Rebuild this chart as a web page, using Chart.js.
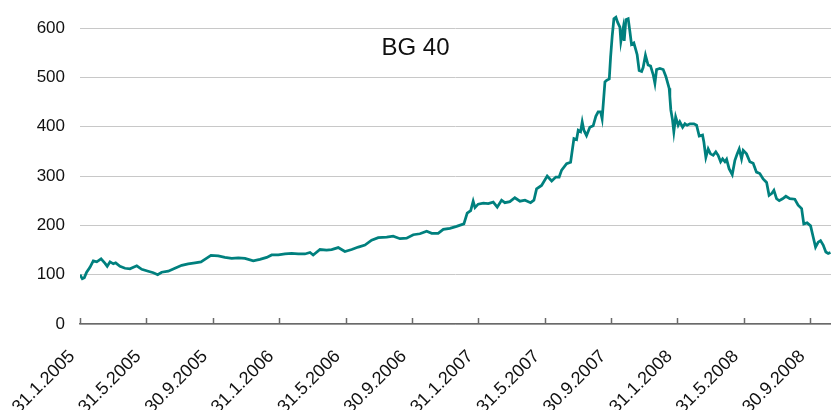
<!DOCTYPE html>
<html>
<head>
<meta charset="utf-8">
<title>BG 40</title>
<script src="https://cdn.jsdelivr.net/npm/chart.js@4/dist/chart.umd.min.js"></script>
<style>
    html, body { margin: 0; padding: 0; background: #ffffff; }
    #wrap { width: 831px; height: 410px; }
</style>
</head>
<body>
<div id="wrap"><canvas id="bgChart" width="831" height="410"></canvas></div>
<script>
// Months elapsed since 31.1.2005 for each reading
const months = [
    0, 0.14, 0.26, 0.40, 0.60, 0.80, 1.01, 1.27, 1.51, 1.64, 1.81, 2.01, 2.15, 2.41, 2.71, 3.01,
    3.42, 3.72, 4.11, 4.42, 4.68, 4.92, 5.32, 5.72, 6.13, 6.52, 6.93, 7.29, 7.57, 7.89,
    8.33, 8.73, 9.14, 9.54, 9.94, 10.44, 10.84, 11.25, 11.55, 11.95, 12.35, 12.75, 13.15, 13.55,
    13.86, 14.05, 14.46, 14.86, 15.16, 15.56, 15.96,
    16.37, 16.77, 17.17, 17.57, 17.97, 18.48, 18.87, 19.28, 19.68, 20.08, 20.48, 20.89, 21.19,
    21.58, 21.89, 22.29, 22.69, 23.13, 23.33, 23.54, 23.69, 23.80, 23.99,
    24.30, 24.60, 24.90, 25.14, 25.40, 25.60, 25.90, 26.20, 26.51, 26.81, 27.15, 27.35, 27.51,
    27.81, 28.15, 28.42, 28.67, 28.87, 29.02, 29.32, 29.56,
    29.76, 29.92, 30.02, 30.16, 30.26, 30.36, 30.52, 30.72, 30.92, 31.08, 31.22, 31.37, 31.46,
    31.63, 31.73, 31.89, 31.97, 32.07, 32.17, 32.29, 32.39, 32.53, 32.59, 32.73, 32.79, 32.89,
    33.03, 33.13, 33.23, 33.37, 33.49, 33.57, 33.69, 33.84, 33.93, 34.07,
    34.23, 34.38, 34.54, 34.64, 34.74, 34.94, 35.14, 35.30, 35.50, 35.54, 35.60, 35.70, 35.78,
    35.89, 36.04, 36.14, 36.31, 36.45, 36.58, 36.75, 36.99, 37.15, 37.31,
    37.51, 37.59, 37.71, 37.85, 37.99, 38.15, 38.31, 38.45, 38.60, 38.72, 38.86, 38.96, 39.11,
    39.30, 39.46, 39.60, 39.72, 39.86, 39.96, 40.16, 40.36, 40.56, 40.76, 40.96, 41.16, 41.37,
    41.52, 41.69, 41.81, 41.97, 42.13, 42.33, 42.53, 42.77, 43.07, 43.27, 43.48, 43.61, 43.81,
    44.02, 44.18, 44.32, 44.48, 44.62, 44.78, 44.94, 45.08, 45.22
];

// Index level
const values = [
    100, 92, 94, 105, 115, 128, 126, 132, 123, 117, 126, 122, 124, 117, 113, 112,
    118, 111, 107, 104, 100, 105, 107, 113, 119, 122, 124, 126, 132, 139,
    138, 135, 133, 134, 133, 128, 131, 135, 140, 140, 142, 143, 142, 142,
    145, 140, 151, 150, 151, 155, 147,
    151, 156, 160, 170, 175, 176, 178, 173, 174, 181, 183, 188, 184,
    184, 192, 194, 198, 203, 225, 230, 249, 236, 243,
    245, 244, 247, 237, 251, 246, 248, 256, 249, 251, 246, 251, 274,
    281, 300, 290, 298, 298, 312, 325, 328,
    376, 374, 393, 390, 410, 393, 382, 399, 402, 421, 430, 430, 416,
    491, 494, 497, 541, 585, 619, 622, 612, 602, 573, 600, 574, 617,
    619, 594, 567, 570, 556, 546, 514, 512, 520, 545,
    525, 523, 505, 488, 516, 518, 516, 502, 478, 461, 434, 414, 390,
    420, 403, 410, 399, 406, 403, 406, 406, 403, 381,
    383, 369, 338, 355, 345, 342, 349, 342, 329, 335, 329, 334, 315,
    303, 332, 345, 355, 335, 352, 345, 329, 326, 308, 305, 294, 287,
    261, 265, 271, 254, 250, 254, 259, 254, 253, 241, 234, 203, 205,
    199, 176, 156, 166, 169, 160, 146, 143, 145
];

const tickMonths = [0, 4, 8, 12, 16, 20, 24, 28, 32, 36, 40, 44];
const tickLabels = [
    '31.1.2005', '31.5.2005', '30.9.2005', '31.1.2006', '31.5.2006', '30.9.2006',
    '31.1.2007', '31.5.2007', '30.9.2007', '31.1.2008', '31.5.2008', '30.9.2008'
];

const FONT = "'Liberation Sans', Arial, sans-serif";
const AXIS_COLOR = '#6a6a6a';

// Inside tick marks on the date axis + the chart caption
const overlay = {
    id: 'overlay',
    afterDraw(chart) {
        const ctx = chart.ctx;
        const x = chart.scales.x;
        const bottom = chart.chartArea.bottom;

        ctx.save();
        ctx.strokeStyle = AXIS_COLOR;
        ctx.lineWidth = 1.5;
        x.ticks.forEach(t => {
            const px = Math.round(x.getPixelForValue(t.value)) + 0.5;
            ctx.beginPath();
            ctx.moveTo(px, bottom - 6);
            ctx.lineTo(px, bottom);
            ctx.stroke();
        });

        ctx.fillStyle = '#111111';
        ctx.font = '24px ' + FONT;
        ctx.textAlign = 'center';
        ctx.textBaseline = 'middle';
        ctx.fillText('BG 40', chart.width / 2, 48);
        ctx.restore();
    }
};

new Chart(document.getElementById('bgChart'), {
    type: 'line',
    data: {
        datasets: [{
            label: 'BG 40',
            data: months.map((m, i) => ({ x: m, y: values[i] })),
            borderColor: '#00807e',
            borderWidth: 2.75,
            pointRadius: 0,
            tension: 0,
            fill: false
        }]
    },
    options: {
        responsive: false,
        animation: false,
        layout: { padding: 0 },
        plugins: {
            legend: { display: false },
            tooltip: { enabled: false }
        },
        scales: {
            x: {
                type: 'linear',
                min: 0,
                max: 45.25,
                afterBuildTicks: (scale) => {
                    scale.ticks = tickMonths.map(v => ({ value: v }));
                },
                afterFit: (scale) => {
                    scale.height = 86;
                    scale.paddingLeft = 0;
                    scale.paddingRight = 0;
                },
                grid: { display: true, drawOnChartArea: false, drawTicks: false },
                border: { display: true, color: AXIS_COLOR, width: 1.5 },
                ticks: {
                    autoSkip: false,
                    minRotation: 45,
                    maxRotation: 45,
                    padding: 22,
                    labelOffset: -8,
                    color: '#111111',
                    font: { family: FONT, size: 18 },
                    callback: (value) => {
                        const i = tickMonths.indexOf(value);
                        return i >= 0 ? tickLabels[i] : '';
                    }
                }
            },
            y: {
                min: 0,
                max: 657,
                afterFit: (scale) => {
                    scale.width = 80;
                    scale.paddingTop = 0;
                    scale.paddingBottom = 0;
                },
                grid: { color: '#c8c8c8', lineWidth: 1, drawTicks: false },
                border: { display: false },
                ticks: {
                    stepSize: 100,
                    includeBounds: false,
                    padding: 15,
                    color: '#111111',
                    font: { family: FONT, size: 17 }
                }
            }
        }
    },
    plugins: [overlay]
});
</script>
</body>
</html>
